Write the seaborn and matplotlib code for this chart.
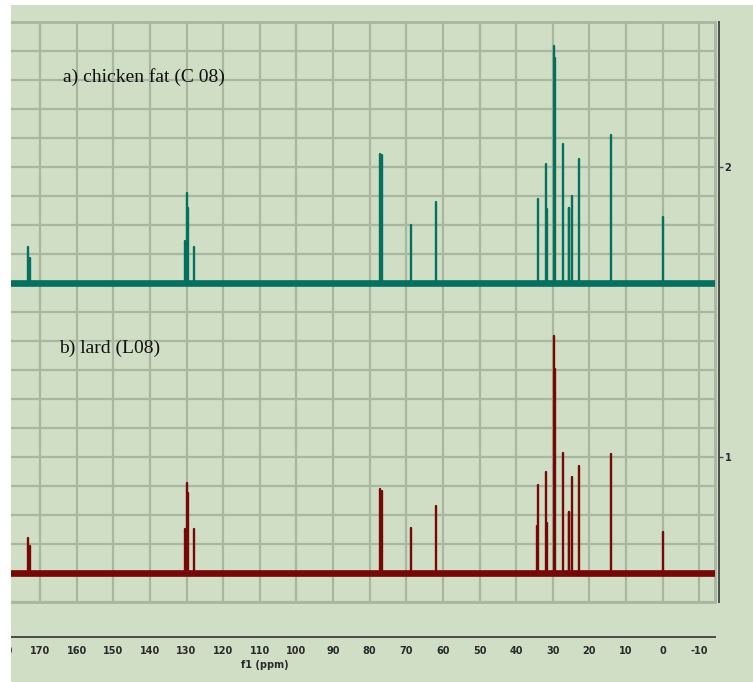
import matplotlib
matplotlib.use("Agg")
import matplotlib.pyplot as plt
import numpy as np
import pandas as pd
import seaborn as sns
from matplotlib.patches import Rectangle
from matplotlib.ticker import MultipleLocator

# 13C NMR peak lists (chemical shift in ppm, intensity above baseline)
chicken_ppm = [173.3, 172.8, 130.3, 130.0, 129.7, 128.1, 77.2, 76.6, 68.8, 61.9,
               34.0, 31.8, 31.5, 29.6, 29.4, 27.2, 25.7, 25.5, 24.8, 22.7, 14.1, 0.0]
chicken_int = [0.124, 0.086, 0.145, 0.310, 0.259, 0.124, 0.445, 0.441, 0.200, 0.279,
               0.290, 0.410, 0.255, 0.817, 0.776, 0.479, 0.259, 0.259, 0.300, 0.428, 0.510, 0.228]

lard_ppm = [173.3, 172.8, 130.3, 130.0, 129.7, 128.1, 77.2, 76.6, 68.8, 61.9,
            34.2, 34.0, 31.8, 31.5, 29.6, 29.4, 27.2, 25.7, 25.5, 24.8, 22.7, 14.1, 0.0]
lard_int = [0.121, 0.093, 0.152, 0.310, 0.276, 0.152, 0.290, 0.283, 0.155, 0.231,
            0.162, 0.303, 0.348, 0.172, 0.817, 0.703, 0.414, 0.210, 0.210, 0.331, 0.369, 0.410, 0.141]

sample_labels = ["a) chicken fat (C 08)", "b) lard (L08)"]
x_ticks = list(range(180, -11, -10))
y_ticks = [1, 2]

# styling / layout
BG = "#cfdec4"
GRID = "#a9b6a0"
SPINE = "#4a4a4a"
TXT = "#2a2a2a"
palette = {"chicken": "#056f60", "lard": "#770808"}
offsets = {"chicken": 1.6, "lard": 0.6}
XLIM = (186.4, -14.3)
YLIM = (0.5, 2.5)

sns.set_theme(style="white")
plt.rcParams["font.family"] = ["DejaVu Sans"]

W, H = 753, 682
fig = plt.figure(figsize=(W / 100, H / 100), dpi=100, facecolor=BG)
ax = fig.add_axes([-20 / W, 80 / H, 735 / W, 580 / H])
ax.set_facecolor(BG)

# stick spectra: one short vertical segment per resonance
rows = []
pid = 0
for name, ppm, inten in (("chicken", chicken_ppm, chicken_int), ("lard", lard_ppm, lard_int)):
    base = offsets[name]
    for p, h in zip(ppm, inten):
        rows.append((name, pid, p, base))
        rows.append((name, pid, p, base + h))
        pid += 1
sticks = pd.DataFrame(rows, columns=["sample", "peak", "ppm", "y"])

baseline = pd.DataFrame({
    "sample": ["chicken", "chicken", "lard", "lard"],
    "ppm": [XLIM[0], XLIM[1], XLIM[0], XLIM[1]],
    "y": [offsets["chicken"]] * 2 + [offsets["lard"]] * 2,
})

sns.lineplot(data=baseline, x="ppm", y="y", hue="sample", palette=palette,
             linewidth=4.8, legend=False, ax=ax, zorder=3)
sns.lineplot(data=sticks, x="ppm", y="y", hue="sample", units="peak",
             estimator=None, sort=False, palette=palette, linewidth=1.7,
             legend=False, ax=ax, zorder=4)

ax.set_xlim(*XLIM)
ax.set_ylim(*YLIM)
ax.set_xlabel("")
ax.set_ylabel("")

# grid: every 10 ppm and every 0.1 intensity units
ax.set_xticks(x_ticks)
ax.set_xticklabels([str(t) for t in x_ticks])
ax.xaxis.set_minor_locator(MultipleLocator(5))
ax.set_yticks(y_ticks)
ax.set_yticklabels([str(t) for t in y_ticks])
ax.yaxis.set_minor_locator(MultipleLocator(0.1))
ax.grid(True, axis="x", which="major", color=GRID, linewidth=1.6, zorder=0)
ax.grid(True, axis="y", which="both", color=GRID, linewidth=1.6, zorder=0)
ax.set_axisbelow(True)

ax.add_patch(Rectangle((0, 0), 1, 1, transform=ax.transAxes, fill=False,
                       edgecolor=GRID, linewidth=2.0, zorder=1, clip_on=False))

for s in ("left", "top"):
    ax.spines[s].set_visible(False)
ax.spines["bottom"].set_position(("outward", 25.5))
ax.spines["right"].set_position(("outward", 3.0))
for s in ("bottom", "right"):
    ax.spines[s].set_color(SPINE)
    ax.spines[s].set_linewidth(1.4)

ax.tick_params(axis="x", which="major", direction="out", length=3.5, width=1.0,
               color=SPINE, labelsize=7, labelcolor=TXT, pad=3)
ax.tick_params(axis="x", which="minor", direction="out", length=2, width=1.0,
               color=SPINE)
ax.tick_params(axis="y", which="major", left=False, right=True, labelleft=False,
               labelright=True, direction="out", length=3, width=1.0,
               color=SPINE, labelsize=7, labelcolor=TXT, pad=1)
ax.tick_params(axis="y", which="minor", left=False, right=False)

for t in ax.get_xticklabels() + ax.get_yticklabels():
    t.set_fontweight("bold")

# sample annotations
label_font = ["Liberation Serif", "DejaVu Serif"]
ax.text(163.8, 2.31, sample_labels[0], ha="left", va="center",
        fontsize=14, family=label_font, color="#111111", zorder=5)
ax.text(164.8, 1.376, sample_labels[1], ha="left", va="center",
        fontsize=14, family=label_font, color="#111111", zorder=5)

fig.text(265 / W, 1 - 665 / H, "f1 (ppm)", ha="center", va="center",
         fontsize=7, color=TXT, fontweight="bold")

# white page margins on the left and top
fig.add_artist(Rectangle((0, 0), 11 / W, 1, transform=fig.transFigure,
                         facecolor="white", edgecolor="none", zorder=20))
fig.add_artist(Rectangle((0, 1 - 5 / H), 1, 5 / H, transform=fig.transFigure,
                         facecolor="white", edgecolor="none", zorder=20))

fig.savefig("out.png", dpi=100, facecolor=BG)
